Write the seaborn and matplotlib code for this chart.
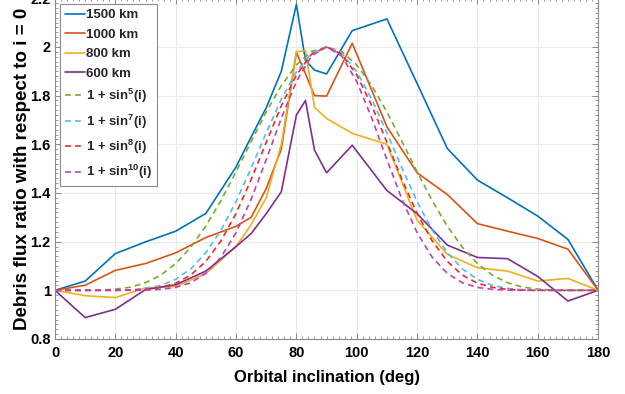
import numpy as np
import pandas as pd
import matplotlib
matplotlib.use("Agg")
import matplotlib.pyplot as plt
import seaborn as sns
from matplotlib import font_manager
from matplotlib.ticker import MultipleLocator, FormatStrFormatter

# --- data ---
incl = [0, 10, 20, 30, 40, 50, 60, 65, 70, 75, 80, 83, 86, 90, 98.5,
        110, 120, 130, 140, 150, 160, 170, 180]
flux_1500 = [1.0, 1.038, 1.151, 1.199, 1.243, 1.316, 1.507, 1.63, 1.75, 1.90, 2.175, 1.945,
             1.905, 1.889, 2.067, 2.115, 1.85, 1.583, 1.453, 1.38, 1.305, 1.209, 1.0]
flux_1000 = [1.0, 1.021, 1.082, 1.11, 1.154, 1.217, 1.263, 1.30, 1.418, 1.58, 1.978, 1.89,
             1.80, 1.798, 2.015, 1.672, 1.483, 1.394, 1.274, 1.243, 1.213, 1.169, 1.0]
flux_800 = [1.0, 0.978, 0.97, 1.01, 1.016, 1.069, 1.18, 1.27, 1.38, 1.60, 1.98, 1.985,
            1.752, 1.706, 1.645, 1.60, 1.288, 1.148, 1.093, 1.079, 1.038, 1.049, 1.0]
flux_600 = [1.0, 0.888, 0.922, 1.003, 1.023, 1.079, 1.18, 1.233, 1.315, 1.405, 1.72, 1.78,
            1.576, 1.483, 1.596, 1.41, 1.315, 1.186, 1.135, 1.13, 1.057, 0.956, 1.0]

incl_fit = list(range(0, 185, 5))
fit_sin5 = [1.000, 1.000, 1.000, 1.001, 1.005, 1.013, 1.031, 1.062, 1.110, 1.177, 1.264,
            1.369, 1.487, 1.611, 1.733, 1.841, 1.926, 1.981, 2.000, 1.981, 1.926, 1.841,
            1.733, 1.611, 1.487, 1.369, 1.264, 1.177, 1.110, 1.062, 1.031, 1.013, 1.005,
            1.001, 1.000, 1.000, 1.000]
fit_sin7 = [1.000, 1.000, 1.000, 1.000, 1.001, 1.002, 1.008, 1.020, 1.045, 1.088, 1.155,
            1.247, 1.365, 1.502, 1.647, 1.785, 1.898, 1.974, 2.000, 1.974, 1.898, 1.785,
            1.647, 1.502, 1.365, 1.247, 1.155, 1.088, 1.045, 1.020, 1.008, 1.002, 1.001,
            1.000, 1.000, 1.000, 1.000]
fit_sin8 = [1.000, 1.000, 1.000, 1.000, 1.000, 1.001, 1.004, 1.012, 1.029, 1.063, 1.119,
            1.203, 1.316, 1.455, 1.608, 1.758, 1.885, 1.970, 2.000, 1.970, 1.885, 1.758,
            1.608, 1.455, 1.316, 1.203, 1.119, 1.063, 1.029, 1.012, 1.004, 1.001, 1.000,
            1.000, 1.000, 1.000, 1.000]
fit_sin10 = [1.000, 1.000, 1.000, 1.000, 1.000, 1.000, 1.001, 1.004, 1.012, 1.031, 1.070,
             1.136, 1.237, 1.374, 1.537, 1.707, 1.858, 1.963, 2.000, 1.963, 1.858, 1.707,
             1.537, 1.374, 1.237, 1.136, 1.070, 1.031, 1.012, 1.004, 1.001, 1.000, 1.000,
             1.000, 1.000, 1.000, 1.000]

solid_labels = ["1500 km", "1000 km", "800 km", "600 km"]
dash_labels = ["1 + sin$^{5}$(i)", "1 + sin$^{7}$(i)", "1 + sin$^{8}$(i)", "1 + sin$^{10}$(i)"]

sns.set_theme(style="whitegrid")
names = {f.name for f in font_manager.fontManager.ttflist}
fam = "Liberation Sans Narrow" if "Liberation Sans Narrow" in names else "Liberation Sans"
plt.rcParams["font.family"] = [fam, "DejaVu Sans"]
plt.rcParams["font.weight"] = "bold"
plt.rcParams["mathtext.fontset"] = "custom"
plt.rcParams["mathtext.rm"] = fam + ":bold"
plt.rcParams["mathtext.it"] = fam + ":bold"
plt.rcParams["mathtext.bf"] = fam + ":bold"

fig = plt.figure(figsize=(6.25, 3.94), dpi=100)
ax = fig.add_axes([0.088, 0.1396, 0.869, 0.8648])

solid_colors = ["#0072BD", "#D95319", "#EDB120", "#7E2F8E"]
for y, lab, c in zip([flux_1500, flux_1000, flux_800, flux_600], solid_labels, solid_colors):
    sns.lineplot(x=incl, y=y, ax=ax, color=c, lw=1.2, label=lab, sort=False)

dash_colors = ["#77AC30", "#4DBEEE", "#F02828", "#C040B0"]
for y, lab, c in zip([fit_sin5, fit_sin7, fit_sin8, fit_sin10], dash_labels, dash_colors):
    sns.lineplot(x=incl_fit, y=y, ax=ax, color=c, lw=1.2, label=lab, sort=False,
                 linestyle=(0, (3.5, 2.5)))

ax.set_xlim(0, 180)
ax.set_ylim(0.8, 2.2)
ax.xaxis.set_major_locator(MultipleLocator(20))
ax.xaxis.set_minor_locator(MultipleLocator(2))
ax.yaxis.set_major_locator(MultipleLocator(0.2))
ax.yaxis.set_minor_locator(MultipleLocator(0.02))
ax.yaxis.set_major_formatter(FormatStrFormatter("%g"))

ax.grid(True, which="major", color="#ebebeb", lw=0.8)
ax.grid(False, which="minor")
for s in ax.spines.values():
    s.set_color("#8a8a8a")
    s.set_linewidth(0.8)
ax.tick_params(which="both", direction="in", top=True, right=True, bottom=True, left=True,
               color="#8a8a8a", labelsize=10.5, pad=3)
ax.tick_params(axis="x", pad=5)
ax.tick_params(which="major", length=4, width=0.7)
ax.tick_params(which="minor", length=2, width=0.6)
for t in ax.get_xticklabels() + ax.get_yticklabels():
    t.set_fontweight("bold")
    t.set_color("black")

ax.set_xlabel("Orbital inclination (deg)", fontsize=12, fontweight="bold", color="black", labelpad=7)
ax.set_ylabel("Debris flux ratio with respect to i = 0", fontsize=13.5, fontweight="bold",
              color="black")
ax.yaxis.set_label_coords(-0.045, 0.5)

leg = ax.legend(loc="upper left", bbox_to_anchor=(0.005, 0.99), fontsize=9.5, frameon=True,
                fancybox=False, edgecolor="#8a8a8a", handlelength=1.5, handletextpad=0.1,
                labelspacing=0.55, borderpad=0.35, borderaxespad=0.2)
leg.get_frame().set_linewidth(0.8)
leg.get_frame().set_alpha(1)
for t in leg.get_texts():
    t.set_fontweight("bold")

fig.savefig("out.png", dpi=100)
